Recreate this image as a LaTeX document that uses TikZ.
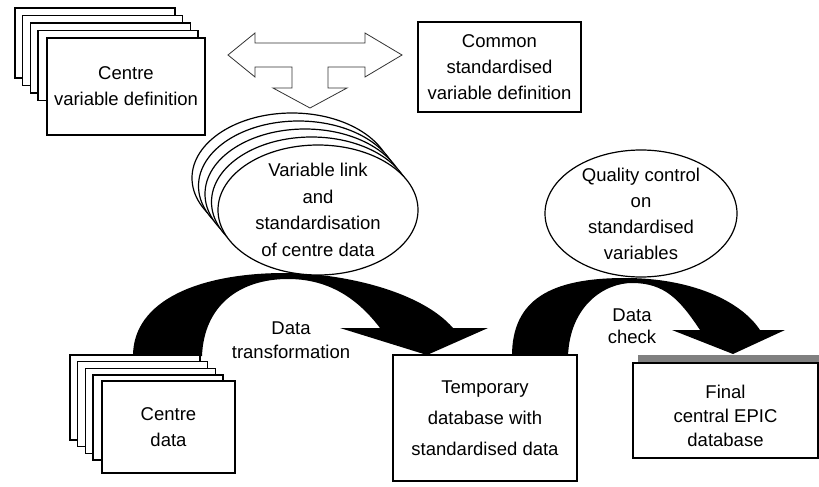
\documentclass[tikz,border=0pt]{standalone}
\usepackage{fontspec}
\setmainfont{Liberation Sans}
\usetikzlibrary{calc}
\tikzset{
  txt/.style={font=\fontsize{18.5}{26}\selectfont, align=center, inner sep=0pt},
  box/.style={draw, line width=1.4pt, fill=white, inner sep=0pt, txt},
  sheet/.style={draw, line width=1.4pt, fill=white},
  oval/.style={draw, line width=1.2pt, fill=white},
  band/.style={fill=black},
  hollow/.style={draw=black!80, line width=0.8pt, fill=white, line join=miter},
}
\begin{document}
\begin{tikzpicture}[x=1pt, y=-1pt]
\useasboundingbox (0,0) rectangle (819,487);

% thick curved arrows (drawn first, they pass behind shapes)
\fill[band] (133,356) .. controls (133,300) and (200,273) .. (285,273)
  .. controls (340,273) and (420,290) .. (453,328) -- (488,328) -- (427,355)
  -- (340,328) -- (380,328) .. controls (355,295) and (325,279) .. (288,279)
  .. controls (240,279) and (204,305) .. (202,356) -- cycle;
\fill[band] (512,356) .. controls (512,300) and (550,278) .. (625,278)
  .. controls (690,278) and (740,300) .. (760,330) -- (785,330) -- (733,354)
  -- (672,330) -- (700,330) .. controls (680,300) and (665,283) .. (632,283)
  .. controls (605,283) and (570,305) .. (568,356) -- cycle;

% centre variable definitions (stack)
\foreach \k in {0,...,3}
  \draw[sheet] (15+7.7*\k, 8+7.5*\k) rectangle ++(160,70);
\node[box, minimum width=158pt, minimum height=97pt] (cvd) at (126,86.5)
  {Centre\\variable definition};

% common definition
\node[box, minimum width=163pt, minimum height=90pt] (common) at (499.5,67)
  {Common\\standardised\\variable definition};

% three-way hollow arrow
\draw[hollow] (228,55) -- (255,33) -- (255,43) -- (365,43) -- (365,33)
  -- (402,55) -- (365,77) -- (365,67) -- (328,67) -- (328,88) -- (347,88)
  -- (310,108) -- (273,88) -- (292,88) -- (292,67) -- (255,67) -- (255,77)
  -- cycle;

% centre data (stack)
\foreach \k in {0,...,3}
  \draw[sheet] (70+7.7*\k, 355+6.6*\k) rectangle ++(130,85);
\node[box, minimum width=133pt, minimum height=92pt] (cdata) at (168.5,427)
  {Centre\\data};

% temporary database
\node[box, minimum width=184pt, minimum height=126pt,
  font=\fontsize{18.5}{31}\selectfont] (temp) at (485,418)
  {Temporary\\database with\\standardised data};

% final database with its grey top bar
\fill[black!50] (638,355) rectangle (819,363);
\node[box, minimum width=185pt, minimum height=95pt] (final) at (725.5,410.5) {};
\node[txt, font=\fontsize{18.5}{24}\selectfont] (finaltxt) at (725.5,416)
  {Final\\central EPIC\\database};

% variable link ellipses (stack)
\coordinate (linkc) at (318,210);
\foreach \k in {4,3,2,1}
  \draw[oval] ($(linkc)+(-6.5*\k,-8*\k)$) ellipse [x radius=100pt, y radius=65pt];
\draw[oval] (linkc) ellipse [x radius=100pt, y radius=65pt];
\node[txt, font=\fontsize{18.5}{26.7}\selectfont] (link) at (linkc)
  {Variable link\\and\\standardisation\\of centre data};

% quality control ellipse
\coordinate (qcc) at (641,213.5);
\draw[oval] (qcc) ellipse [x radius=96pt, y radius=63.5pt];
\node[txt] (qc) at (qcc) {Quality control\\on\\standardised\\variables};

% arrow labels
\node[txt, font=\fontsize{18.5}{24}\selectfont] (trans) at (291,340) {Data\\transformation};
\node[txt, font=\fontsize{18.5}{22}\selectfont] (check) at (632,326) {Data\\check};
\end{tikzpicture}
\end{document}
